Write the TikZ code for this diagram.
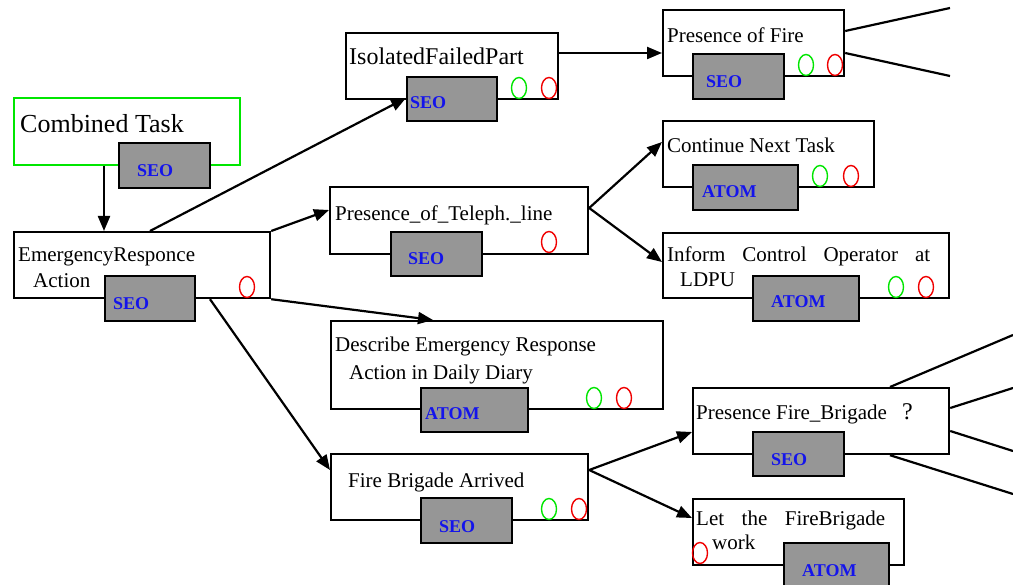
\documentclass[tikz,border=0pt]{standalone}
\usepackage{fontspec}
\setmainfont{Liberation Serif}
\usetikzlibrary{arrows.meta,shapes.geometric}
\definecolor{tagfill}{RGB}{150,150,150}
\definecolor{tagtext}{RGB}{20,20,235}
\definecolor{okgreen}{RGB}{0,230,0}
\definecolor{failred}{RGB}{240,0,0}
\tikzset{
  taskbox/.style={draw=black,line width=2.2pt,fill=white,anchor=north west,inner sep=0pt},
  rootbox/.style={draw=okgreen,line width=2.2pt,fill=white,anchor=north west,inner sep=0pt},
  tagbox/.style={draw=black,line width=2.2pt,fill=tagfill,anchor=north west,inner sep=0pt},
  tagtxt/.style={anchor=base west,inner sep=0pt,text=tagtext,font=\fontsize{18}{20}\selectfont\bfseries},
  label/.style={anchor=base west,inner sep=0pt,font=\fontsize{21}{24}\selectfont},
  okmark/.style={ellipse,draw=okgreen,line width=1.4pt,minimum width=15pt,minimum height=21pt,inner sep=0pt},
  failmark/.style={ellipse,draw=failred,line width=1.4pt,minimum width=15pt,minimum height=21pt,inner sep=0pt},
  link/.style={line width=2.2pt,-{Triangle[length=15pt,width=12pt]}},
  branch/.style={line width=2.2pt},
}
\begin{document}
\begin{tikzpicture}[x=1pt,y=-1pt]
\clip (0,0) rectangle (1013,585);
\fill[white] (0,0) rectangle (1013,585);

% ---- task boxes ----
\node[rootbox,minimum width=226,minimum height=67] (ct) at (13,97) {};
\node[taskbox,minimum width=256,minimum height=66] (er) at (13,231) {};
\node[taskbox,minimum width=212,minimum height=66] (iso) at (345,32) {};
\node[taskbox,minimum width=181,minimum height=66] (pof) at (662,9) {};
\node[taskbox,minimum width=258,minimum height=67] (tel) at (329,186) {};
\node[taskbox,minimum width=211,minimum height=66] (cnt) at (662,120) {};
\node[taskbox,minimum width=286,minimum height=65] (inf) at (662,232) {};
\node[taskbox,minimum width=332,minimum height=88] (des) at (330,320) {};
\node[taskbox,minimum width=257,minimum height=66] (fba) at (330,453) {};
\node[taskbox,minimum width=256,minimum height=66] (pfb) at (692,387) {};
\node[taskbox,minimum width=211,minimum height=66] (let) at (692,498) {};

% ---- type tags ----
\node[tagbox,minimum width=91,minimum height=45] (ctT) at (118,142) {};
\node[tagbox,minimum width=90,minimum height=45] (erT) at (104,275) {};
\node[tagbox,minimum width=90,minimum height=44] (isoT) at (406,76) {};
\node[tagbox,minimum width=91,minimum height=45] (pofT) at (692,53) {};
\node[tagbox,minimum width=91,minimum height=44] (telT) at (390,231) {};
\node[tagbox,minimum width=105,minimum height=45] (cntT) at (692,164) {};
\node[tagbox,minimum width=106,minimum height=45] (infT) at (752,275) {};
\node[tagbox,minimum width=107,minimum height=44] (desT) at (420,387) {};
\node[tagbox,minimum width=91,minimum height=45] (fbaT) at (420,497) {};
\node[tagbox,minimum width=91,minimum height=44] (pfbT) at (752,431) {};
\node[tagbox,minimum width=105,minimum height=50] (letT) at (783,542) {};

% ---- texts ----
\node[label,font=\fontsize{26}{28}\selectfont] (ctL) at (20,133) {Combined Task};
\node[label] (erL1) at (18,262) {EmergencyResponce};
\node[label] (erL2) at (33,288) {Action};
\node[label,font=\fontsize{24}{26}\selectfont] (isoL) at (349,65) {IsolatedFailedPart};
\node[label] (pofL) at (667,43) {Presence of Fire};
\node[label] (telL) at (335,221) {Presence\_of\_Teleph.\_line};
\node[label] (cntL) at (667,153) {Continue Next Task};
\node[label] (infL1) at (667,262) {\makebox[263pt][s]{Inform Control Operator at}};
\node[label] (infL2) at (680,287) {LDPU};
\node[label] (desL1) at (335,352) {Describe Emergency Response};
\node[label] (desL2) at (349,380) {Action in Daily Diary};
\node[label] (fbaL) at (348,487) {Fire Brigade Arrived};
\node[label] (pfbL) at (696,420) {Presence Fire\_Brigade};
\node[label,font=\fontsize{24}{26}\selectfont] (pfbQ) at (902,420) {?};
\node[label] (letL1) at (696,525) {\makebox[189pt][s]{Let the FireBrigade}};
\node[label] (letL2) at (712,549) {work};

\node[tagtxt] at (137,177) {SEO};
\node[tagtxt] at (113,310) {SEO};
\node[tagtxt] at (410,109) {SEO};
\node[tagtxt] at (706,88) {SEO};
\node[tagtxt] at (408,265) {SEO};
\node[tagtxt] at (702,198) {ATOM};
\node[tagtxt] at (771,308) {ATOM};
\node[tagtxt] at (425,420) {ATOM};
\node[tagtxt] at (439,532) {SEO};
\node[tagtxt] at (771,465) {SEO};
\node[tagtxt] at (802,576) {ATOM};

% ---- state marks ----
\node[failmark] (erF) at (247,287) {};
\node[okmark] (isoG) at (519,88) {};
\node[failmark] (isoF) at (549,88) {};
\node[okmark] (pofG) at (806,65) {};
\node[failmark] (pofF) at (835,65) {};
\node[failmark] (telF) at (549,242) {};
\node[okmark] (cntG) at (820,176) {};
\node[failmark] (cntF) at (851,176) {};
\node[okmark] (infG) at (896,287) {};
\node[failmark] (infF) at (926,287) {};
\node[okmark] (desG) at (594,398) {};
\node[failmark] (desF) at (624,398) {};
\node[okmark] (fbaG) at (549,509) {};
\node[failmark] (fbaF) at (579,509) {};
\node[failmark] (letF) at (700,553) {};

% ---- connectors ----
\draw[link] ([xshift=91]ct.south west) -- ([xshift=91]er.north west);
\draw[link] ([xshift=137]er.north west) -- ([yshift=-22]isoT.north west);
\draw[link] (er.north east) -- ([yshift=-24]tel.north west);
\draw[link] (er.south east) -- ([xshift=103]des.north west);
\draw[link] ([xshift=197]er.south west) -- ([yshift=-17]fba.north west);
\draw[link] ([yshift=-21]iso.north east) -- ([yshift=-44]pof.north west);
\draw[link] ([yshift=-22]tel.north east) -- ([yshift=-22]cnt.north west);
\draw[link] ([yshift=-22]tel.north east) -- ([yshift=-30]inf.north west);
\draw[link] ([yshift=-17]fba.north east) -- ([yshift=-45]pfb.north west);
\draw[link] ([yshift=-17]fba.north east) -- ([yshift=-20]let.north west);

% ---- open branches leaving the view ----
\coordinate (pofA) at (950,8);
\coordinate (pofB) at (950,76);
\coordinate (pfbA) at (1013,335);
\coordinate (pfbB) at (1013,388);
\coordinate (pfbC) at (1013,451);
\coordinate (pfbD) at (1013,494);
\draw[branch] ([yshift=-22]pof.north east) -- (pofA);
\draw[branch] ([yshift=-44]pof.north east) -- (pofB);
\draw[branch] ([xshift=198]pfb.north west) -- (pfbA);
\draw[branch] ([yshift=-21]pfb.north east) -- (pfbB);
\draw[branch] ([yshift=-44]pfb.north east) -- (pfbC);
\draw[branch] ([xshift=198]pfb.south west) -- (pfbD);
\end{tikzpicture}
\end{document}
